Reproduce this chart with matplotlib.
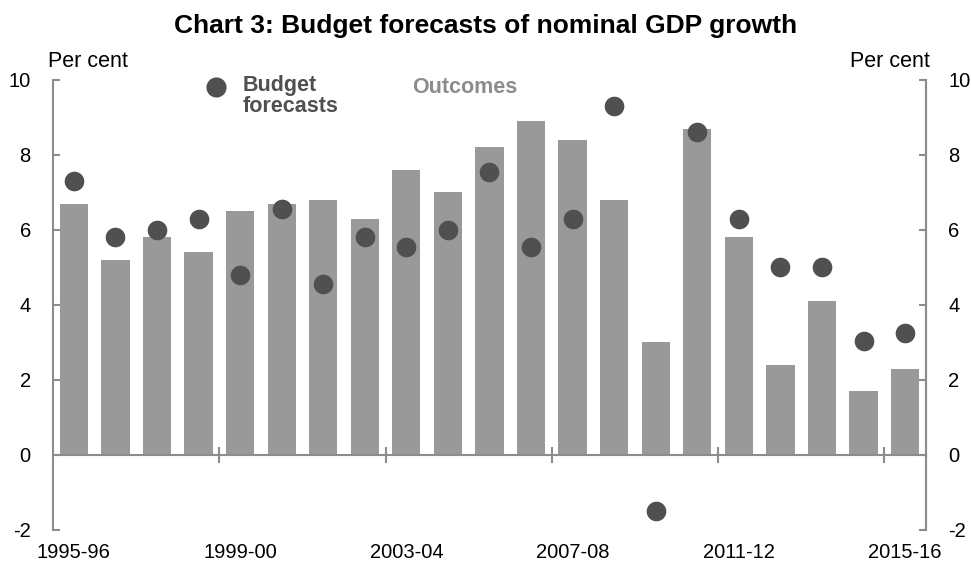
import matplotlib.pyplot as plt
import numpy as np

plt.rcParams["font.family"] = ["Liberation Sans", "DejaVu Sans"]
plt.rcParams["axes.unicode_minus"] = False

years = [
    "1995-96", "1996-97", "1997-98", "1998-99", "1999-00", "2000-01", "2001-02",
    "2002-03", "2003-04", "2004-05", "2005-06", "2006-07", "2007-08", "2008-09",
    "2009-10", "2010-11", "2011-12", "2012-13", "2013-14", "2014-15", "2015-16",
]
outcomes = [6.7, 5.2, 5.8, 5.4, 6.5, 6.7, 6.8, 6.3, 7.6, 7.0, 8.2, 8.9, 8.4, 6.8,
            3.0, 8.7, 5.8, 2.4, 4.1, 1.7, 2.3]
forecasts = [7.3, 5.8, 6.0, 6.3, 4.8, 6.55, 4.55, 5.8, 5.55, 6.0, 7.55, 5.55, 6.3,
             9.3, -1.5, 8.6, 6.3, 5.0, 5.0, 3.05, 3.25]
y_ticks = [-2, 0, 2, 4, 6, 8, 10]

BAR_COLOR = "#999999"
DOT_COLOR = "#505050"
AXIS_COLOR = "#8c8c8c"

x = np.arange(len(years))

fig = plt.figure(figsize=(9.71, 5.67), dpi=100)
ax = fig.add_axes([0.0546, 0.0653, 0.899, 0.7937])

ax.bar(x, outcomes, width=0.68, color=BAR_COLOR, zorder=2)
ax.scatter(x, forecasts, s=200, color=DOT_COLOR, zorder=3, linewidths=0)

ax.set_xlim(-0.5, len(years) - 0.5)
ax.set_ylim(-2, 10)

# x axis runs through zero, ticks sit between categories
ax.spines["bottom"].set_position(("data", 0))
ax.spines["top"].set_visible(False)
for side in ["left", "right", "bottom"]:
    ax.spines[side].set_color(AXIS_COLOR)
    ax.spines[side].set_linewidth(1.5)
ax.spines["bottom"].set_zorder(4)

ax.set_xticks(np.arange(3.5, len(years), 4))
ax.set_xticklabels([])
ax.tick_params(axis="x", direction="inout", length=12, width=1.5, color=AXIS_COLOR)
for i in range(0, len(years), 4):
    ax.text(i, -2.36, years[i], ha="center", va="top", fontsize=14.5)

ax.set_yticks(y_ticks)
ax.tick_params(axis="y", direction="in", length=5, width=1.5, color=AXIS_COLOR,
               labelsize=14.5, pad=16)
ax.yaxis.set_ticks_position("left")
ax_r = ax.twinx()
ax_r.set_ylim(ax.get_ylim())
ax_r.set_yticks(y_ticks)
ax_r.tick_params(axis="y", direction="in", length=5, width=1.5, color=AXIS_COLOR,
                 labelsize=14.5, pad=16)
for side in ["left", "top", "bottom"]:
    ax_r.spines[side].set_visible(False)
ax_r.spines["right"].set_color(AXIS_COLOR)
ax_r.spines["right"].set_linewidth(1.5)

ax.text(-0.006, 1.018, "Per cent", transform=ax.transAxes, fontsize=15.5,
        ha="left", va="bottom")
ax.text(1.004, 1.018, "Per cent", transform=ax.transAxes, fontsize=15.5,
        ha="right", va="bottom")

# legend drawn as annotations
ax.scatter([3.42], [9.8], s=210, color=DOT_COLOR, linewidths=0, clip_on=False, zorder=3)
ax.text(4.05, 10.14, "Budget\nforecasts", fontsize=15.5, fontweight="bold",
        color=DOT_COLOR, va="top", ha="left", linespacing=1.0)
ax.text(8.15, 9.8, "Outcomes", fontsize=15.5, fontweight="bold", color="#8c8c8c",
        va="center", ha="left")

fig.text(0.5, 0.955, "Chart 3: Budget forecasts of nominal GDP growth", fontsize=19,
         fontweight="bold", ha="center", va="center")

fig.savefig("out.png", dpi=100)
